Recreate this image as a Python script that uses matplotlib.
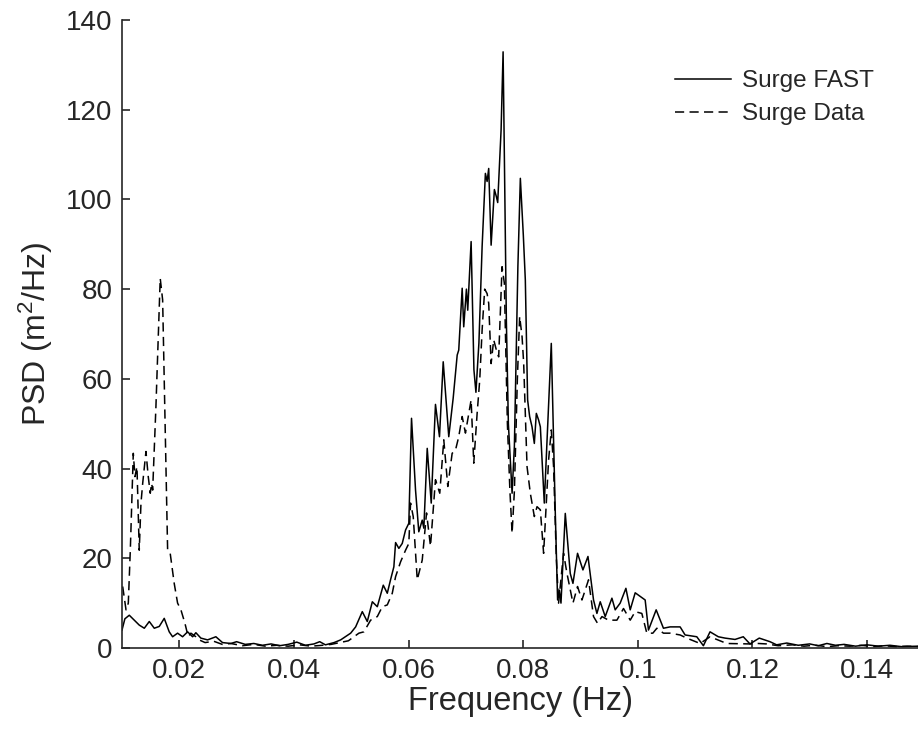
import matplotlib
matplotlib.use("Agg")
import matplotlib.pyplot as plt

plt.rcParams['font.family'] = ['Liberation Sans', 'DejaVu Sans']
plt.rcParams['mathtext.fontset'] = 'custom'
plt.rcParams['mathtext.rm'] = 'Liberation Sans'
plt.rcParams['mathtext.it'] = 'Liberation Sans'

# ---------------- data ----------------
fast_f = [0.0100, 0.0105, 0.01127, 0.01214, 0.01301, 0.01389, 0.01476, 0.01563, 0.0165,
          0.01737, 0.01824, 0.01883, 0.01970, 0.02057, 0.02145, 0.02232, 0.02289, 0.02376,
          0.02493, 0.02638, 0.02754, 0.0290, 0.0300, 0.0315, 0.0330, 0.0345, 0.0360, 0.0375,
          0.0390, 0.0405, 0.0420, 0.0435, 0.0445, 0.0455, 0.0470,
          0.04815, 0.04990, 0.05077, 0.05193, 0.05280, 0.05368, 0.05455, 0.05559, 0.05629,
          0.05686, 0.05744, 0.05774, 0.05831, 0.05890, 0.05948, 0.06005, 0.06052, 0.06122,
          0.06179, 0.06239, 0.06267, 0.06326, 0.06396, 0.06470, 0.06540, 0.06605, 0.06702,
          0.06779, 0.06849, 0.06876, 0.06936, 0.06963, 0.07010, 0.07033, 0.07092, 0.07141,
          0.07176, 0.07228, 0.07284, 0.07341, 0.07371, 0.07399, 0.07441, 0.07498, 0.07533,
          0.07556, 0.07615, 0.07650, 0.07707, 0.07742, 0.07807, 0.07847, 0.07908, 0.07951,
          0.08003, 0.08038, 0.08078, 0.08113, 0.08155, 0.08195, 0.08230, 0.08270, 0.08300,
          0.08369, 0.08430, 0.08491, 0.08561, 0.08601, 0.08631, 0.08660, 0.08735, 0.08822,
          0.08869, 0.08949, 0.09043, 0.09131, 0.09228, 0.09287, 0.09345, 0.09432, 0.09549,
          0.09606, 0.09693, 0.09793, 0.09868, 0.09955, 0.10129, 0.10187, 0.10321, 0.10448,
          0.10564, 0.10739, 0.10826, 0.11030, 0.11145, 0.11261, 0.11406, 0.11523, 0.11697,
          0.11841, 0.11958, 0.12120, 0.12307, 0.12423, 0.1260, 0.1280, 0.1300, 0.1315,
          0.1330, 0.1345, 0.1360, 0.1380, 0.1400, 0.1420, 0.1440, 0.1460, 0.1490]
fast_psd = [4.0, 6.5, 7.3, 6.2, 5.1, 4.4, 5.9, 4.4, 4.8,
            6.6, 3.6, 2.5, 3.3, 2.5, 3.6, 2.5, 3.4, 2.2,
            1.8, 2.5, 1.2, 1.0, 1.4, 0.8, 1.0, 0.6, 0.9, 0.5,
            0.8, 1.3, 0.6, 0.9, 1.4, 0.7, 1.2,
            1.8, 3.3, 4.7, 8.1, 5.9, 10.3, 9.2, 14.0, 12.2,
            15.2, 18.1, 23.5, 22.2, 23.3, 26.3, 27.8, 51.2, 35.2,
            25.9, 28.5, 26.7, 44.5, 32.3, 54.3, 47.1, 63.8, 47.1,
            55.7, 65.3, 66.4, 80.2, 71.6, 80.0, 75.3, 90.6, 62.0,
            57.0, 68.0, 89.5, 105.8, 104.0, 106.9, 89.8, 102.2, 100.6,
            99.3, 115.5, 132.9, 73.0, 50.0, 34.5, 45.0, 85.0, 104.7,
            92.0, 82.0, 55.3, 51.6, 49.3, 45.6, 52.3, 50.8, 49.3,
            32.3, 50.0, 67.9, 30.0, 10.7, 12.9, 10.0, 30.0, 16.6,
            14.4, 21.1, 17.4, 20.4, 10.7, 7.7, 10.3, 7.0, 11.1,
            8.5, 10.0, 13.3, 8.5, 12.3, 10.7, 4.0, 8.5, 4.4,
            4.7, 4.7, 2.9, 2.5, 0.5, 3.6, 2.5, 2.2, 1.9,
            2.5, 0.9, 2.2, 1.4, 0.7, 1.1, 0.6, 0.9, 0.5,
            1.0, 0.6, 0.8, 0.4, 0.7, 0.4, 0.6, 0.3, 0.4]

data_f = [0.01012, 0.0107, 0.01110, 0.01145, 0.01197, 0.01226, 0.01261, 0.01301, 0.01331,
          0.01361, 0.01418, 0.01458, 0.01493, 0.01517, 0.01535, 0.01592, 0.01667, 0.01709,
          0.01749, 0.01796, 0.01841, 0.01911, 0.01970, 0.02028, 0.02098, 0.02155, 0.02202,
          0.02289, 0.02347, 0.0245, 0.0260, 0.0275, 0.0290, 0.0310, 0.0330, 0.0350, 0.0370,
          0.0390, 0.0410, 0.0430, 0.0450, 0.0465, 0.0480, 0.0495,
          0.05134, 0.05221, 0.05338, 0.05455, 0.05542, 0.05629, 0.05716, 0.05774, 0.05861,
          0.05948, 0.06005, 0.06035, 0.06082, 0.06152, 0.06239, 0.06314, 0.06383, 0.06470,
          0.06545, 0.06615, 0.06685, 0.06761, 0.06819, 0.06876, 0.06936, 0.06993, 0.07051,
          0.07092, 0.07138, 0.07197, 0.07242, 0.07284, 0.07329, 0.07371, 0.07399, 0.07441,
          0.07486, 0.07533, 0.07573, 0.07632, 0.07672, 0.07725, 0.07769, 0.07807, 0.07847,
          0.07899, 0.07939, 0.07981, 0.08009, 0.08068, 0.08125, 0.08195, 0.08242, 0.08300,
          0.08357, 0.08444, 0.08491, 0.08531, 0.08578, 0.08618, 0.08705, 0.08765, 0.08869,
          0.08949, 0.09026, 0.09141, 0.09228, 0.09298, 0.09375, 0.09490, 0.09636, 0.09751,
          0.09868, 0.09955, 0.10071, 0.10158, 0.10263, 0.10333, 0.10448, 0.10564, 0.10739,
          0.10855, 0.11087, 0.11261, 0.11552, 0.11958, 0.12103, 0.12249, 0.1245, 0.1270,
          0.1290, 0.1310, 0.1330, 0.1350, 0.1370, 0.1390, 0.1410, 0.1430, 0.1450, 0.1470,
          0.1490]
data_psd = [13.7, 8.5, 10.0, 21.8, 43.4, 38.2, 40.4, 21.8, 32.3,
            36.7, 43.8, 38.2, 34.5, 36.7, 35.2, 53.8, 82.4, 77.6,
            51.6, 21.8, 21.1, 14.4, 10.0, 8.5, 5.5, 2.5, 3.3,
            2.5, 1.8, 1.2, 1.5, 0.8, 1.0, 0.5, 0.8, 0.4, 0.6,
            0.4, 0.7, 0.4, 0.6, 0.8, 1.2, 1.6,
            3.3, 3.6, 6.2, 7.0, 9.2, 9.6, 12.2, 15.9, 19.2,
            21.8, 23.3, 32.3, 29.3, 15.2, 19.6, 30.1, 22.7, 37.5,
            34.5, 46.4, 36.0, 43.4, 44.1, 47.1, 51.6, 47.9, 52.3,
            55.3, 41.2, 52.3, 59.7, 70.9, 80.0, 79.0, 76.8, 63.4,
            68.7, 66.4, 64.9, 85.0, 81.3, 50.0, 35.0, 25.6, 35.0,
            60.0, 73.9, 69.4, 63.5, 40.4, 34.5, 29.3, 31.5, 30.8,
            21.1, 41.9, 48.6, 40.4, 20.4, 10.0, 21.1, 16.6, 10.0,
            13.7, 10.7, 15.2, 7.0, 5.5, 7.0, 6.2, 6.2, 8.8,
            6.2, 8.1, 7.7, 3.3, 3.3, 4.4, 3.3, 3.3, 2.9,
            2.2, 1.0, 2.5, 1.0, 0.9, 1.0, 0.9, 0.5, 0.7,
            0.4, 0.6, 0.3, 0.5, 0.4, 0.6, 0.3, 0.5, 0.3, 0.4,
            0.3]

xticks = [0.02, 0.04, 0.06, 0.08, 0.1, 0.12, 0.14]
xtick_labels = ['0.02', '0.04', '0.06', '0.08', '0.1', '0.12', '0.14']
yticks = [0, 20, 40, 60, 80, 100, 120, 140]

# ---------------- figure ----------------
fig = plt.figure(figsize=(9.18, 7.43), dpi=100)
ax = fig.add_axes([0.1329, 0.1279, 0.8671, 0.8452])

ax.plot(fast_f, fast_psd, color='black', lw=1.1, label='Surge FAST')
ax.plot(data_f, data_psd, color='black', lw=1.1, dashes=[6, 3.5], label='Surge Data')

ax.set_xlim(0.01, 0.1489)
ax.set_ylim(0, 140)
ax.set_xticks(xticks)
ax.set_xticklabels(xtick_labels)
ax.set_yticks(yticks)

for s in ['top', 'right']:
    ax.spines[s].set_visible(False)
for s in ['left', 'bottom']:
    ax.spines[s].set_color('#262626')
    ax.spines[s].set_linewidth(1.2)

ax.tick_params(direction='in', length=6, width=1.2, color='#262626',
               labelsize=20, labelcolor='#262626', pad=7)

ax.set_xlabel('Frequency (Hz)', fontsize=23.5, color='#262626', labelpad=1.5)
ax.set_ylabel('PSD (m$^2$/Hz)', fontsize=23, color='#262626', labelpad=8)

leg = ax.legend(loc='upper right', frameon=False, fontsize=17.5, handlelength=2.3,
                handletextpad=0.45, bbox_to_anchor=(0.972, 0.955), labelspacing=0.45)
for t in leg.get_texts():
    t.set_color('#262626')

fig.savefig('out.png', dpi=100)
